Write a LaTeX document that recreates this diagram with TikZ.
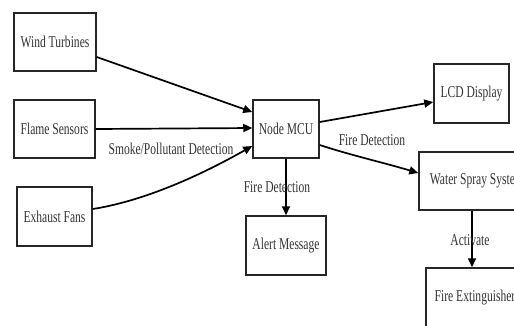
\documentclass[tikz,border=0pt]{standalone}
\usepackage{fontspec}
\setmainfont[FakeStretch=0.7]{Liberation Serif}
\usetikzlibrary{arrows.meta}
\begin{document}
\begin{tikzpicture}[x=1pt,y=-1pt,
  box/.style={draw=black!85,line width=1.5pt,inner sep=0pt,font=\fontsize{16.5}{18}\selectfont,text=black!80},
  conn/.style={line width=1.7pt,-{Triangle[length=9pt,width=8pt]}},
  lbl/.style={font=\fontsize{16.5}{18}\selectfont,text=black!80,inner sep=1pt}]
\clip (0,0) rectangle (514,325);
\fill[white] (0,0) rectangle (514,325);
\node[box,minimum width=82pt,minimum height=58pt] (wind) at (55,42) {Wind Turbines};
\node[box,minimum width=81pt,minimum height=58pt] (flame) at (54.5,129) {Flame Sensors};
\node[box,minimum width=75pt,minimum height=59pt] (fans) at (54.5,216.5) {Exhaust Fans};
\node[box,minimum width=66pt,minimum height=58pt] (mcu) at (286,129) {Node MCU};
\node[box,minimum width=75pt,minimum height=59pt] (lcd) at (471.5,93.5) {LCD Display};
\node[box,minimum width=116pt,minimum height=58pt] (spray) at (477,181) {Water Spray System};
\node[box,minimum width=80pt,minimum height=59pt] (alert) at (286,245.5) {Alert Message};
\node[box,minimum width=98pt,minimum height=60pt] (ext) at (475,298) {Fire Extinguisher};
\draw[conn] (wind.east |- 0,57) -- (mcu.west |- 0,112);
\draw[conn] (flame.east) -- (mcu.west |- 0,128);
\draw[conn] (fans.east |- 0,209) .. controls (150,200) and (210,170) .. (mcu.west |- 0,146);
\node[lbl] (smoke) at (171,149) {Smoke/Pollutant Detection};
\draw[conn] (mcu.east |- 0,122) -- (lcd.west |- 0,102);
\draw[conn] (mcu.east |- 0,145) .. controls (350,155) and (385,163) .. (spray.west |- 0,173);
\node[lbl] (fd1) at (372,140) {Fire Detection};
\draw[conn] (mcu.south) -- (alert.north);
\node[lbl] (fd2) at (277,187) {Fire Detection};
\draw[conn] (spray.south -| 472,0) -- (ext.north -| 472,0);
\node[lbl] (act) at (470,240) {Activate};
\end{tikzpicture}
\end{document}
